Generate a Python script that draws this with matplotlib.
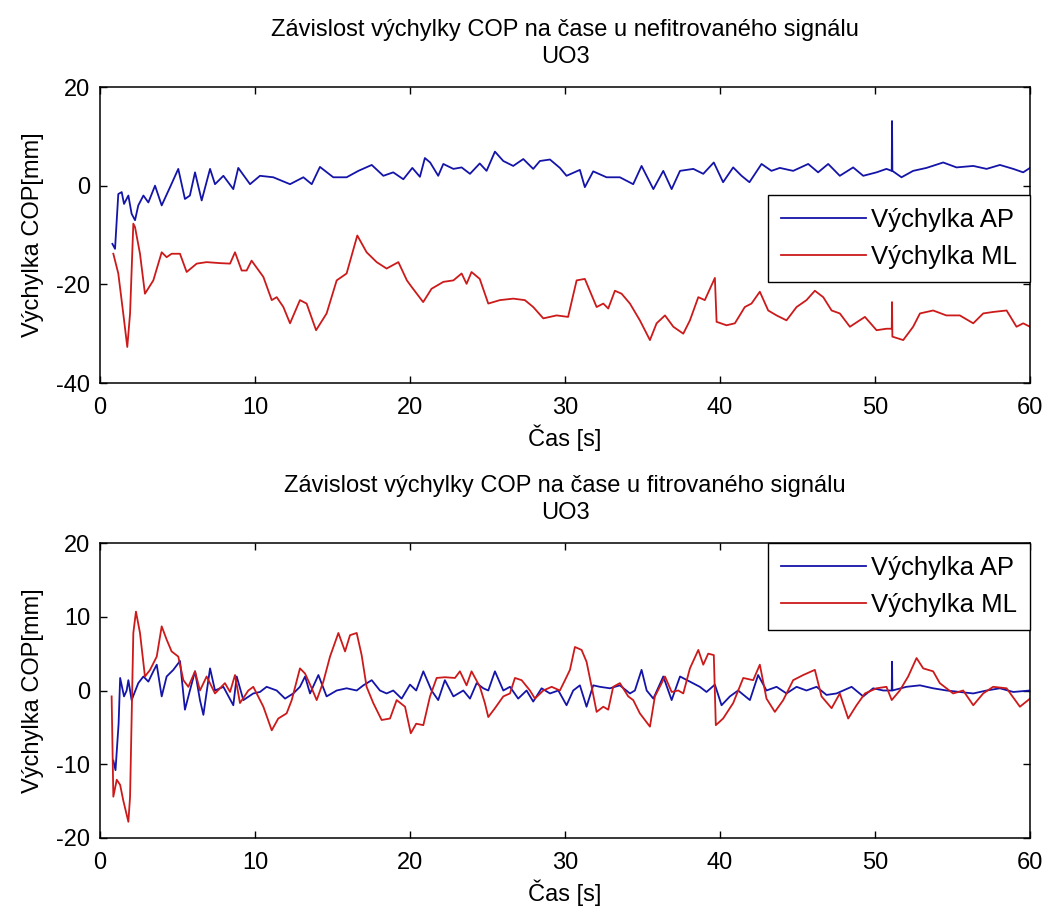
import matplotlib
matplotlib.use("Agg")
import matplotlib.pyplot as plt

plt.rcParams['font.family'] = ['Liberation Sans', 'DejaVu Sans']
plt.rcParams['axes.unicode_minus'] = False

# ---------------- data ----------------
t_ap_raw = [0.8, 0.97, 1.18, 1.4, 1.55, 1.83, 2.04, 2.26, 2.47, 2.8,
            3.12, 3.55, 3.98, 4.52, 5.05, 5.48, 5.8, 6.13, 6.56, 7.1,
            7.42, 7.96, 8.6, 8.92, 9.68, 10.32, 11.18, 12.26, 13.12, 13.66,
            14.19, 15.05, 15.91, 16.67, 17.53, 18.28, 18.92, 19.57, 20.15, 20.64,
            20.96, 21.3, 21.82, 22.15, 22.8, 23.33, 23.87, 24.5, 24.94, 25.48,
            26.02, 26.66, 27.31, 27.95, 28.38, 29.03, 29.67, 30.1, 30.96, 31.28,
            31.82, 32.68, 33.54, 34.4, 34.94, 35.7, 36.34, 36.88, 37.42, 38.28,
            38.92, 39.6, 40.2, 40.85, 41.39, 41.9, 42.68, 43.32, 43.86, 44.72,
            45.69, 46.33, 46.98, 47.73, 48.59, 49.24, 50.1, 50.74, 51.08, 51.1,
            51.12, 51.71, 52.46, 53.32, 54.4, 55.26, 56.34, 57.2, 58.06, 58.92,
            59.56, 60.0]
ap_raw = [-11.8, -12.8, -1.7, -1.3, -3.7, -2, -5.7, -7, -4, -2,
          -3.4, 0, -4, -0.3, 3.4, -2.7, -2, 2.7, -3, 3.4,
          0.3, 2, -0.7, 3.6, 0.3, 2, 1.7, 0.3, 1.7, 0.3,
          3.8, 1.7, 1.7, 3, 4.2, 2, 2.7, 1.3, 3.6, 1.8,
          5.6, 4.7, 2, 4.4, 3.4, 3.7, 2.4, 4.5, 3, 6.9,
          5, 4, 5.4, 3.4, 5, 5.3, 3.6, 2, 3.2, -0.3,
          2.9, 1.7, 1.7, 0.3, 4, -0.7, 3, -0.7, 3, 3.4,
          2.4, 4.7, 0.7, 3.7, 2, 0.7, 4.4, 3, 3.6, 3,
          4.4, 2.7, 4.4, 2, 3.7, 2, 2.7, 3.4, 3.0, 13.1,
          3.0, 1.7, 3, 3.6, 4.7, 3.7, 4, 3.4, 4.2, 3.4,
          2.7, 3.6]

t_ml_raw = [0.86, 1.18, 1.5, 1.76, 1.94, 2.15, 2.26, 2.58, 2.9, 3.44,
            3.98, 4.3, 4.62, 5.16, 5.59, 6.24, 6.88, 7.74, 8.39, 8.71,
            9.14, 9.46, 9.78, 10.54, 11.08, 11.4, 11.83, 12.26, 12.9, 13.33,
            13.94, 14.62, 15.27, 15.91, 16.6, 17.2, 17.85, 18.49, 19.25, 19.8,
            20.1, 20.85, 21.39, 22.15, 22.8, 23.33, 23.65, 23.97, 24.5, 25.05,
            25.8, 26.66, 27.41, 27.95, 28.6, 29.46, 30.2, 30.75, 31.28, 32.04,
            32.47, 32.79, 33.22, 33.65, 34.19, 34.83, 35.48, 35.91, 36.45, 36.99,
            37.63, 38.06, 38.6, 39.02, 39.67, 39.78, 40.42, 40.96, 41.6, 42.03,
            42.57, 43.11, 43.65, 44.29, 44.94, 45.58, 46.12, 46.66, 47.2, 47.73,
            48.38, 49.35, 50.1, 50.74, 51.08, 51.1, 51.12, 51.82, 52.46, 52.9,
            53.75, 54.6, 55.47, 56.34, 56.98, 57.62, 58.49, 59.13, 59.56, 60.0]
ml_raw = [-13.8, -17.8, -25.9, -32.7, -25.9, -7.7, -8.4, -13.8, -21.9, -19.2,
          -13.5, -14.5, -13.8, -13.8, -17.5, -15.8, -15.5, -15.7, -15.8, -13.5,
          -17.2, -17.2, -15.2, -18.5, -23.2, -22.6, -24.6, -27.9, -23.2, -23.9,
          -29.3, -25.9, -19.2, -17.8, -10.1, -13.5, -15.5, -16.8, -15.5, -19.2,
          -20.5, -23.6, -20.9, -19.5, -19.2, -17.8, -19.9, -17.5, -18.9, -23.9,
          -23.2, -22.9, -23.2, -24.6, -26.9, -26.3, -26.6, -19.2, -18.9, -24.6,
          -23.9, -24.9, -21.3, -21.9, -23.9, -27.3, -31.3, -27.9, -26.3, -28.6,
          -30, -27.3, -22.6, -23.2, -18.7, -27.6, -28.3, -27.9, -24.6, -23.9,
          -21.5, -25.3, -26.3, -27.3, -24.6, -23.2, -21.3, -22.6, -25.3, -25.9,
          -28.6, -26.6, -29.3, -29, -29.0, -23.6, -30.6, -31.3, -28.6, -25.9,
          -25.3, -26.3, -26.3, -27.9, -25.9, -25.6, -25.3, -28.6, -27.9, -28.6]

t_ap_filt = [0.86, 1.0, 1.2, 1.3, 1.55, 1.72, 1.83, 2.04, 2.47, 2.8,
             3.12, 3.44, 3.66, 3.98, 4.3, 4.73, 5.16, 5.48, 5.8, 6.13,
             6.45, 6.67, 7.1, 7.42, 7.96, 8.6, 8.82, 9.25, 9.89, 10.32,
             10.75, 11.4, 11.94, 12.47, 12.9, 13.23, 13.55, 14.09, 14.62, 15.27,
             15.91, 16.56, 16.99, 17.53, 18.06, 18.49, 18.92, 19.46, 20.0, 20.4,
             20.86, 21.39, 21.82, 22.25, 22.8, 23.44, 23.87, 24.3, 24.73, 25.05,
             25.48, 26.02, 26.45, 26.98, 27.52, 27.95, 28.49, 29.03, 29.57, 30.1,
             30.53, 30.96, 31.39, 31.82, 32.25, 32.9, 33.54, 34.19, 34.51, 34.94,
             35.27, 35.7, 36.34, 36.88, 37.42, 38.06, 38.7, 39.13, 39.67, 40.1,
             40.64, 41.17, 41.93, 42.46, 43.0, 43.65, 44.29, 44.94, 45.58, 46.23,
             46.87, 47.52, 48.49, 49.24, 49.88, 50.53, 51.08, 51.1, 51.12, 52.03,
             52.9, 53.75, 54.62, 55.47, 56.34, 57.2, 58.06, 58.92, 60.0]
ap_filt = [-9.5, -10.8, -4.5, 1.7, -0.8, 0, 1.4, -1.3, 1.0, 1.9,
           1.2, 2.6, 3.5, -0.8, 1.9, 2.8, 4.0, -2.6, 0, 2.6,
           -1.3, -3.3, 3, 0, 0.5, -2, 1.9, -1.3, -0.4, -0.2,
           0.5, 0, -1.1, -0.4, 0.5, 1.9, -0.4, 2.1, -0.8, 0,
           0.3, 0, 0.7, 1.4, 0, -0.4, 0, -1.1, 0.8, 0,
           2.6, 0, -1.3, 1.4, -0.8, 0, -1.1, 1, 0.3, 0,
           2.6, 0, 0.5, -1.1, 0, -1.5, 0.3, -0.4, 0, -2,
           0, 0.7, -2.2, 0.7, 0.5, 0.3, 0.7, -0.4, 0, 2.8,
           0, -1.1, 1.9, -1.3, 1.9, 1.2, 0.5, -0.2, 0.8, -2,
           -0.8, 0, -1.3, 2.1, 0, 0.5, -0.4, 0.5, 0, 0.5,
           -0.6, -0.4, 0.5, -0.8, 0.3, 0, 0, 3.9, 0, 0.5,
           0.7, 0.3, 0, -0.2, -0.4, 0, 0.3, -0.2, 0]

t_ml_filt = [0.75, 0.86, 1.08, 1.3, 1.5, 1.83, 1.94, 2.04, 2.15, 2.32,
             2.58, 2.9, 3.23, 3.66, 3.98, 4.3, 4.62, 5.05, 5.38, 5.7,
             6.13, 6.45, 6.88, 7.42, 8.06, 8.39, 8.71, 9.03, 9.57, 9.89,
             10.54, 11.08, 11.5, 12.04, 12.37, 12.9, 13.23, 13.66, 13.98, 14.41,
             14.84, 15.38, 15.81, 16.13, 16.56, 16.88, 17.2, 17.63, 18.17, 18.71,
             19.14, 19.68, 20.05, 20.4, 20.86, 21.29, 21.72, 22.25, 22.9, 23.22,
             23.65, 23.97, 24.51, 24.83, 25.05, 25.48, 26.02, 26.45, 26.77, 27.2,
             27.74, 28.06, 28.6, 29.14, 29.67, 30.0, 30.32, 30.64, 31.07, 31.39,
             31.72, 32.04, 32.47, 32.79, 33.11, 33.54, 34.08, 34.4, 34.83, 35.48,
             35.8, 36.45, 36.88, 37.31, 37.63, 38.06, 38.6, 38.92, 39.24, 39.6,
             39.73, 40.2, 40.85, 41.5, 42.14, 42.57, 43.0, 43.54, 44.08, 44.72,
             45.37, 46.12, 46.55, 47.2, 47.73, 48.27, 48.81, 49.35, 50.1, 50.74,
             51.08, 51.6, 52.14, 52.68, 53.11, 53.75, 54.18, 55.04, 55.69, 56.34,
             56.98, 57.62, 58.49, 59.35, 60.0]
ml_filt = [-0.8, -14.4, -12.1, -12.8, -14.9, -17.8, -14.4, -3.6, 7.8, 10.7,
           7.8, 1.9, 2.8, 4.6, 8.7, 6.9, 5.3, 4.6, 1.4, 0.5,
           2.6, 0, 1.9, -0.4, 1.0, -0.2, 2.1, -1.7, 0, 0.5,
           -2.2, -5.4, -3.8, -3.1, -1.3, 3.0, 2.3, 0.3, -1.3, 1.2,
           4.6, 7.8, 5.3, 7.5, 7.8, 4.8, 0.5, -1.7, -4.0, -3.8,
           -1.3, -2.2, -5.8, -4.5, -4.7, -0.8, 1.7, 1.8, 1.7, 2.6,
           0.7, 2.6, 0.5, -1.7, -3.6, -2.4, -0.8, -0.4, 1.7, 1.4,
           0, -1.1, 0, 0.5, 0, 1.4, 2.8, 5.9, 5.5, 3.9,
           0.5, -2.9, -2.2, -2.6, 0.5, 1.0, -0.8, -1.3, -3.1, -4.9,
           -0.8, 1.9, -0.2, 0, -0.4, 3.0, 5.5, 3.5, 5.0, 4.8,
           -4.7, -3.8, -1.7, 1.7, 1.4, 3.5, -1.1, -2.9, -1.3, 1.4,
           2.1, 2.8, -0.8, -2.4, -0.4, -3.8, -2.0, -0.4, 0.3, 0.5,
           -1.3, 0, 1.9, 4.4, 3.0, 2.6, 1.0, -0.4, 0, -2.0,
           -0.4, 0.5, 0.3, -2.2, -1.1]

titles = ["Závislost výchylky COP na čase u nefitrovaného signálu\nUO3",
          "Závislost výchylky COP na čase u fitrovaného signálu\nUO3"]
legend_labels = ["Výchylka AP", "Výchylka ML"]
xlabel = "Čas [s]"
ylabel = "Výchylka COP[mm]"
xticks = [0, 10, 20, 30, 40, 50, 60]
yticks_top = [-40, -20, 0, 20]
yticks_bot = [-20, -10, 0, 10, 20]

# ---------------- figure ----------------
W, H = 1043, 906
fig = plt.figure(figsize=(W / 100, H / 100), dpi=100)
FS = 17
LFS = 18.5
BLUE = '#1414a8'
RED = '#cc1a1a'

def px_axes(x0, y0, x1, y1):
    return fig.add_axes([x0 / W, 1 - y1 / H, (x1 - x0) / W, (y1 - y0) / H])

ax1 = px_axes(100, 87, 1030, 383)
ax2 = px_axes(100, 543, 1030, 838)

def style(ax, yticks, ylim, title):
    ax.set_xlim(0, 60)
    ax.set_ylim(*ylim)
    ax.set_xticks(xticks)
    ax.set_yticks(yticks)
    ax.tick_params(direction='in', top=True, right=True, length=5, width=1,
                   labelsize=FS)
    ax.tick_params(axis='x', pad=10)
    ax.tick_params(axis='y', pad=7)
    for s in ax.spines.values():
        s.set_linewidth(1.1)
    ax.set_xlabel(xlabel, fontsize=FS, labelpad=4)
    ax.set_ylabel(ylabel, fontsize=FS, labelpad=9)
    ax.set_title(title, fontsize=FS, linespacing=1.3, pad=17)

def add_legend(ax, handles, anchor):
    leg = ax.legend(handles, legend_labels, loc='upper right',
                    bbox_to_anchor=anchor, borderaxespad=0, fontsize=LFS,
                    fancybox=False, edgecolor='black', framealpha=1,
                    handlelength=3.3, handletextpad=0.2, borderpad=0.5,
                    labelspacing=0.5)
    leg.get_frame().set_linewidth(1.0)
    return leg

l1, = ax1.plot(t_ap_raw, ap_raw, color=BLUE, lw=1.3)
l2, = ax1.plot(t_ml_raw, ml_raw, color=RED, lw=1.3)
style(ax1, yticks_top, (-40, 20), titles[0])
add_legend(ax1, [l1, l2], (1.0, 0.635))

m1, = ax2.plot(t_ap_filt, ap_filt, color=BLUE, lw=1.3)
m2, = ax2.plot(t_ml_filt, ml_filt, color=RED, lw=1.3)
style(ax2, yticks_bot, (-20, 20), titles[1])
add_legend(ax2, [m1, m2], (1.0, 1.0))

fig.savefig('out.png', dpi=100)
